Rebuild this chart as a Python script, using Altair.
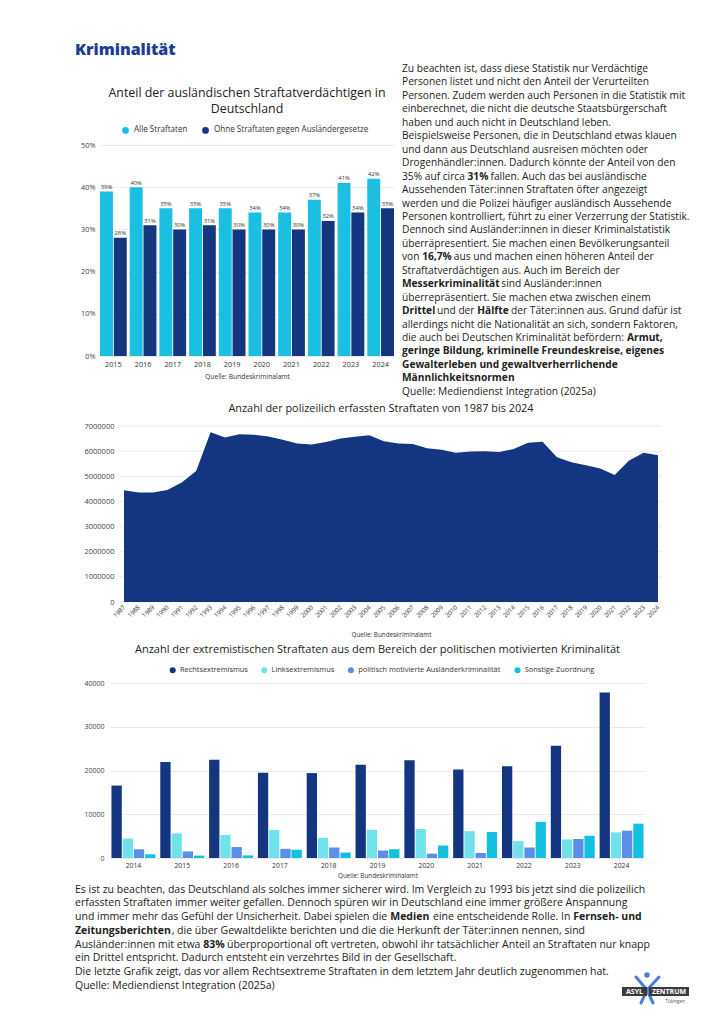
import altair as alt
import pandas as pd

FONT = "Open Sans"
TXT = "#222222"
NAVY = "#143580"
CYAN = "#1bbfe2"
TITLE_BLUE = "#1f3c93"

# ---------------- data ----------------
JAHRE_1 = ["2015", "2016", "2017", "2018", "2019", "2020", "2021", "2022", "2023", "2024"]
ALLE_STRAFTATEN = [39, 40, 35, 35, 35, 34, 34, 37, 41, 42]
OHNE_AUSLAENDERGESETZE = [28, 31, 30, 31, 30, 30, 30, 32, 34, 35]
REIHEN_1 = ["Alle Straftaten", "Ohne Straftaten gegen Ausländergesetze"]
TITEL_1 = ["Anteil der ausländischen Straftatverdächtigen in", "Deutschland"]

JAHRE_2 = [str(y) for y in range(1987, 2025)]
STRAFTATEN = [4444108, 4356726, 4358573, 4455333, 4752175, 5209060, 6750613, 6537748,
              6668717, 6647598, 6586165, 6456996, 6302316, 6264723, 6363865, 6507394,
              6572135, 6633156, 6391715, 6304223, 6284661, 6114128, 6054330, 5933278,
              5990679, 5997040, 5961662, 6082064, 6330649, 6372526, 5761984, 5555520,
              5436401, 5310621, 5047860, 5628584, 5940667, 5837445]
TICKS_2 = [0, 1000000, 2000000, 3000000, 4000000, 5000000, 6000000, 7000000]

JAHRE_3 = [str(y) for y in range(2014, 2025)]
KATEGORIEN = ["Rechtsextremismus", "Linksextremismus",
              "politisch motivierte Ausländerkriminalität", "Sonstige Zuordnung"]
RECHTS = [16559, 21933, 22471, 19467, 19409, 21290, 22357, 20201, 20967, 25660, 37835]
LINKS = [4424, 5620, 5230, 6393, 4622, 6449, 6632, 6142, 3847, 4248, 5857]
AUSLAENDER = [2000, 1500, 2500, 2100, 2400, 1700, 1000, 1150, 2400, 4350, 6250]
SONSTIGE = [850, 550, 600, 1900, 1250, 2000, 2850, 5950, 8250, 5100, 7850]
TICKS_3 = [0, 10000, 20000, 30000, 40000]
FARBEN_3 = [NAVY, "#70e2eb", "#5b8ee6", "#14c0e0"]

TEXT_RECHTS = [
    "Zu beachten ist, dass diese Statistik nur Verdächtige",
    "Personen listet und nicht den Anteil der Verurteilten",
    "Personen. Zudem werden auch Personen in die Statistik mit",
    "einberechnet, die nicht die deutsche Staatsbürgerschaft",
    "haben und auch nicht in Deutschland leben.",
    "Beispielsweise Personen, die in Deutschland etwas klauen",
    "und dann aus Deutschland ausreisen möchten oder",
    "Drogenhändler:innen. Dadurch könnte der Anteil von den",
    "35% auf circa **31%** fallen. Auch das bei ausländische",
    "Aussehenden Täter:innen Straftaten öfter angezeigt",
    "werden und die Polizei häufiger ausländisch Aussehende",
    "Personen kontrolliert, führt zu einer Verzerrung der Statistik.",
    "Dennoch sind Ausländer:innen in dieser Kriminalstatistik",
    "überräpresentiert. Sie machen einen Bevölkerungsanteil",
    "von **16,7%** aus und machen einen höheren Anteil der",
    "Straftatverdächtigen aus. Auch im Bereich der",
    "**Messerkriminalität** sind Ausländer:innen",
    "überrepräsentiert. Sie machen etwa zwischen einem",
    "**Drittel** und der **Hälfte** der Täter:innen aus. Grund dafür ist",
    "allerdings nicht die Nationalität an sich, sondern Faktoren,",
    "die auch bei Deutschen Kriminalität befördern: **Armut,**",
    "**geringe Bildung, kriminelle Freundeskreise, eigenes**",
    "**Gewalterleben und gewaltverherrlichende**",
    "**Männlichkeitsnormen**",
    "Quelle:  Mediendienst Integration (2025a)",
]

TEXT_UNTEN = [
    "Es ist zu beachten, das Deutschland als solches immer sicherer wird. Im Vergleich zu 1993 bis jetzt sind die polizeilich",
    "erfassten Straftaten immer weiter gefallen. Dennoch spüren wir in Deutschland eine immer größere Anspannung",
    "und immer mehr das Gefühl der Unsicherheit. Dabei spielen die **Medien** eine entscheidende Rolle. In **Fernseh- und**",
    "**Zeitungsberichten**, die über Gewaltdelikte berichten und die die Herkunft der Täter:innen nennen, sind",
    "Ausländer:innen mit etwa **83%** überproportional oft vertreten, obwohl ihr tatsächlicher Anteil an Straftaten nur knapp",
    "ein Drittel entspricht. Dadurch entsteht ein verzehrtes Bild in der Gesellschaft.",
    "Die letzte Grafik zeigt, das vor allem Rechtsextreme Straftaten in dem letztem Jahr deutlich zugenommen hat.",
    "Quelle: Mediendienst Integration (2025a)",
]

# ---------------- text metrics helper (approx. advance widths, em) ----------------
EM = {' ': .26, '!': .28, ',': .245, '-': .322, '.': .266, ':': .266, '(': .297, ')': .297, '%': .818,
      'A': .633, 'B': .648, 'C': .631, 'D': .729, 'E': .556, 'F': .516, 'G': .728, 'H': .738, 'I': .279,
      'J': .267, 'K': .614, 'L': .524, 'M': .903, 'N': .754, 'O': .779, 'P': .602, 'Q': .779, 'R': .618,
      'S': .549, 'T': .553, 'U': .728, 'V': .595, 'W': .926, 'X': .577, 'Y': .56, 'Z': .571,
      'a': .556, 'b': .613, 'c': .476, 'd': .613, 'e': .561, 'f': .339, 'g': .548, 'h': .614, 'i': .253,
      'j': .253, 'k': .525, 'l': .253, 'm': .930, 'n': .614, 'o': .604, 'p': .613, 'q': .613, 'r': .408,
      's': .477, 't': .353, 'u': .614, 'v': .501, 'w': .778, 'x': .524, 'y': .502, 'z': .479,
      'ä': .556, 'ö': .604, 'ü': .614, 'ß': .635, 'Ä': .633, 'Ö': .779, 'Ü': .728}
for d in "0123456789":
    EM[d] = .572
BOLD_FACTOR = 1.09


def em_width(s, bold):
    tot = 0.0
    for ch in s:
        w = EM.get(ch, 0.55)
        if bold:
            if ch == '%':
                w = .855
            elif ch.isalpha() or ch in ",.:-":
                w *= BOLD_FACTOR
        tot += w
    return tot


def build_rows(lines, x0, y0, step, fs):
    rows = []
    for i, line in enumerate(lines):
        x = x0
        for k, part in enumerate(line.split("**")):
            b = (k % 2 == 1)
            stripped = part.strip()
            if stripped:
                lead = part[:len(part) - len(part.lstrip())]
                rows.append({"x": x + em_width(lead, b) * fs, "y": y0 + step * i,
                             "t": stripped, "w": "b" if b else "n"})
            x += em_width(part, b) * fs
    return rows


def px_scales(w, h):
    xs = alt.X("x:Q", scale=alt.Scale(domain=[0, w], range=[0, w], nice=False, zero=False), axis=None)
    ys = alt.Y("y:Q", scale=alt.Scale(domain=[0, h], range=[0, h], nice=False, zero=False), axis=None)
    return xs, ys


def text_layers(df, w, h, fs):
    xs, ys = px_scales(w, h)
    base = alt.Chart(df).encode(x=xs, y=ys, text="t:N")
    normal = base.transform_filter("datum.w == 'n'").mark_text(
        align="left", baseline="middle", font=FONT, fontSize=fs, color=TXT)
    bold = base.transform_filter("datum.w == 'b'").mark_text(
        align="left", baseline="middle", font=FONT, fontSize=fs, fontWeight="bold", color=TXT)
    return [normal, bold]


def spacer(w, h):
    return alt.Chart(pd.DataFrame({"v": [0]})).mark_point(opacity=0, size=1).encode(
        x=alt.X("v:Q", axis=None), y=alt.Y("v:Q", axis=None)).properties(width=w, height=h)


# grid origin of every row: page x = 100

# ---------------- top text row (origin page x 100, y 144; height 1, text overflows) ----------------
W1, H1 = 294, 211
FS_R = 10.2
dfR = pd.DataFrame(build_rows(TEXT_RECHTS, 302, -75, 13.45, FS_R))
dfT1 = pd.DataFrame({"x": [W1 / 2, W1 / 2], "y": [-51, -35], "t": TITEL_1})
xsT, ysT = px_scales(W1, 1)
titel1 = alt.Chart(dfT1).mark_text(align="center", baseline="middle", font=FONT, fontSize=12.4,
                                   color=TXT).encode(x=xsT, y=ysT, text="t:N")
textTop = alt.layer(*text_layers(dfR, W1, 1, FS_R), titel1).properties(width=W1, height=1)

# ---------------- chart 1 ----------------
df1 = pd.DataFrame({
    "Jahr": JAHRE_1 * 2,
    "Reihe": [REIHEN_1[0]] * len(JAHRE_1) + [REIHEN_1[1]] * len(JAHRE_1),
    "Wert": ALLE_STRAFTATEN + OHNE_AUSLAENDERGESETZE,
})
df1["Label"] = df1["Wert"].astype(str) + "%"

x1 = alt.X("Jahr:N", sort=JAHRE_1, scale=alt.Scale(paddingInner=0.1, paddingOuter=0.0),
           axis=alt.Axis(title="Quelle: Bundeskriminalamt", labelAngle=0, ticks=False, domain=False,
                         labelFontSize=7.3, labelColor="#333333", labelPadding=4,
                         titleFontSize=6.7, titleFontWeight="normal", titleColor="#333333",
                         titlePadding=6))
xo1 = alt.XOffset("Reihe:N", sort=REIHEN_1, scale=alt.Scale(domain=REIHEN_1, paddingInner=0.06))
y1 = alt.Y("Wert:Q", scale=alt.Scale(domain=[0, 50], nice=False),
           axis=alt.Axis(values=[0, 10, 20, 30, 40, 50], labelExpr="datum.value + '%'", title=None,
                         ticks=False, domain=False, labelFontSize=7.3, labelColor="#444444",
                         labelPadding=5))
bars1 = alt.Chart(df1).mark_bar().encode(
    x=x1, xOffset=xo1, y=y1,
    color=alt.Color("Reihe:N", sort=REIHEN_1, scale=alt.Scale(domain=REIHEN_1, range=[CYAN, NAVY]),
                    legend=alt.Legend(title=None, orient="none", legendX=21.5, legendY=-19,
                                      direction="horizontal", symbolType="circle", symbolSize=45,
                                      symbolStrokeWidth=0, labelFontSize=8.1, labelColor="#333333",
                                      columnPadding=14, labelOffset=4.4, padding=0)),
)
labels1 = alt.Chart(df1).mark_text(baseline="bottom", dy=-1.5, fontSize=5.8, font=FONT,
                                   color="#333333").encode(x=x1, xOffset=xo1, y=y1, text="Label:N")
chart1 = alt.layer(bars1, labels1).properties(width=W1, height=H1)

# ---------------- area chart (plot 120..662 on page) ----------------
WA, HA = 562, 176
dfA = pd.DataFrame({"Jahr": JAHRE_2, "Anzahl": STRAFTATEN})
yA = alt.Y("Anzahl:Q", scale=alt.Scale(domain=[0, 7000000], nice=False),
           axis=alt.Axis(values=TICKS_2, format="d", title=None, ticks=False, domain=False, grid=False,
                         labelFontSize=7.5, labelColor="#444444", labelPadding=6, offset=-20))
gridA = alt.Chart(pd.DataFrame({"Anzahl": TICKS_2})).mark_rule(color="#ebebeb", strokeWidth=1).encode(
    y=yA, x=alt.value(20), x2=alt.value(WA))
area = alt.Chart(dfA).mark_area(color=NAVY, opacity=1).encode(
    x=alt.X("Jahr:O", sort=JAHRE_2, scale=alt.Scale(type="point", range=[24, 558], padding=0),
            axis=alt.Axis(title="Quelle: Bundeskriminalamt", labelAngle=315, labelAlign="right",
                          labelBaseline="middle", labelOverlap=False, ticks=False, domain=False,
                          labelFontSize=6.3, labelColor="#333333", labelPadding=4,
                          titleFontSize=6.3, titleFontWeight="normal", titleColor="#333333",
                          titlePadding=13)),
    y=yA,
)
chartA = alt.layer(gridA, area).properties(
    width=WA, height=HA,
    title=alt.TitleParams("Anzahl der polizeilich erfassten Straftaten von 1987 bis 2024",
                          fontSize=10.9, fontWeight="normal", color=TXT, font=FONT,
                          anchor="middle", offset=8))

# ---------------- grouped bars (plot 110..645 on page) ----------------
WB2, HB2 = 545, 175
df2 = pd.DataFrame({
    "Jahr": JAHRE_3 * 4,
    "Kategorie": sum([[k] * len(JAHRE_3) for k in KATEGORIEN], []),
    "Wert": RECHTS + LINKS + AUSLAENDER + SONSTIGE,
})
chartB = alt.Chart(df2).mark_bar().encode(
    x=alt.X("Jahr:N", sort=JAHRE_3,
            scale=alt.Scale(range=[10, WB2], paddingInner=0.1, paddingOuter=0.03),
            axis=alt.Axis(title="Quelle: Bundeskriminalamt", labelAngle=0, ticks=False, domain=False,
                          labelFontSize=6.8, labelColor="#333333", labelPadding=4,
                          titleFontSize=6.3, titleFontWeight="normal", titleColor="#333333",
                          titlePadding=4)),
    xOffset=alt.XOffset("Kategorie:N", sort=KATEGORIEN,
                        scale=alt.Scale(domain=KATEGORIEN, paddingInner=0.08)),
    y=alt.Y("Wert:Q", scale=alt.Scale(domain=[0, 40000], nice=False),
            axis=alt.Axis(values=TICKS_3, format="d", title=None, ticks=False, domain=False,
                          labelFontSize=7, labelColor="#444444", labelPadding=6, offset=-10)),
    color=alt.Color("Kategorie:N", sort=KATEGORIEN, scale=alt.Scale(domain=KATEGORIEN, range=FARBEN_3),
                    legend=alt.Legend(title=None, orient="none", legendX=69, legendY=-17,
                                      direction="horizontal", symbolType="circle", symbolSize=36,
                                      symbolStrokeWidth=0, labelFontSize=7.4, labelColor="#333333",
                                      columnPadding=12.6, labelOffset=3.6, padding=0)),
).properties(
    width=WB2, height=HB2,
    title=alt.TitleParams("Anzahl der extremistischen Straftaten aus dem Bereich der politischen motivierten Kriminalität",
                          fontSize=11, fontWeight="normal", color=TXT, font=FONT,
                          anchor="middle", offset=11, dx=5))

# ---------------- bottom text + logo (origin = page x 100, y 858) ----------------
WT, HT = 600, 150
FS_B = 10.5
dfB = pd.DataFrame(build_rows(TEXT_UNTEN, -25, 31.5, 13.75, FS_B))
xsB, ysB = px_scales(WT, HT)

LOGO_BOXES = pd.DataFrame({"x": [522, 549], "x2": [547, 589], "y": [129, 129], "y2": [138, 138]})
LOGO_LABELS = pd.DataFrame({"x": [534.5, 569], "y": [133.7, 133.7], "t": ["ASYL", "ZENTRUM"]})
LOGO_LIMBS = pd.DataFrame({"x": [536, 559, 547, 547], "y": [119, 119, 132, 132],
                           "x2": [547, 547, 541, 553], "y2": [132, 132, 145, 145]})
LOGO_HEAD = pd.DataFrame({"x": [547], "y": [117]})
LOGO_ORT = pd.DataFrame({"x": [575], "y": [144], "t": ["Tübingen"]})

limbs = alt.Chart(LOGO_LIMBS).mark_rule(color="#4d7fd6", strokeWidth=3, strokeCap="round").encode(
    x=xsB, y=ysB, x2="x2:Q", y2="y2:Q")
head = alt.Chart(LOGO_HEAD).mark_point(filled=True, color="#4d7fd6", size=30, opacity=1).encode(x=xsB, y=ysB)
boxes = alt.Chart(LOGO_BOXES).mark_rect(color="#3b3b3b").encode(x=xsB, x2="x2:Q", y=ysB, y2="y2:Q")
blabels = alt.Chart(LOGO_LABELS).mark_text(font=FONT, fontSize=7, fontWeight="bold", color="white",
                                           baseline="middle").encode(x=xsB, y=ysB, text="t:N")
ort = alt.Chart(LOGO_ORT).mark_text(font=FONT, fontSize=4.5, color="#555555",
                                    baseline="middle").encode(x=xsB, y=ysB, text="t:N")

textB = alt.layer(*text_layers(dfB, WT, HT, FS_B), limbs, head, boxes, blabels, ort).properties(
    width=WT, height=HT)

# ---------------- page ----------------
page = alt.vconcat(textTop, chart1, spacer(1, 70), chartA, spacer(1, 81), chartB, textB,
                   spacing=0, bounds="flush").resolve_scale(
    color="independent", x="independent", y="independent", xOffset="independent").properties(
    title=alt.TitleParams("Kriminalität", anchor="start", fontSize=16, fontWeight=800,
                          color=TITLE_BLUE, font=FONT, offset=6),
    padding={"left": 67, "top": 34, "right": 5, "bottom": 5},
)

page = page.configure_view(stroke=None).configure_axis(
    labelFont=FONT, titleFont=FONT, gridColor="#ebebeb").configure_legend(
    labelFont=FONT).configure_title(font=FONT)

page.save("out.html", embed_options={"renderer": "svg", "actions": False})
